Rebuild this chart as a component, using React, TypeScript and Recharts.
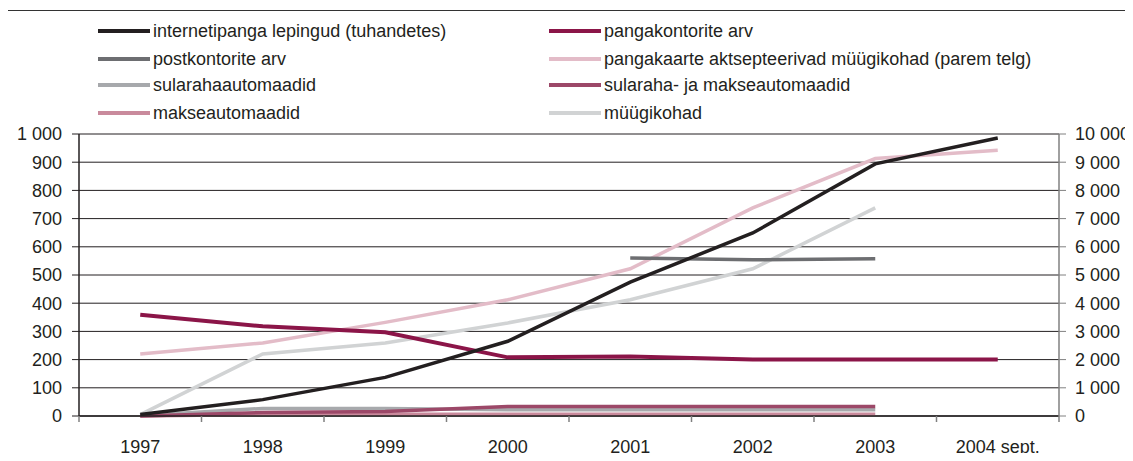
import React from "react";
import { LineChart, Line, XAxis, YAxis, CartesianGrid } from "recharts";

const years = ["1997", "1998", "1999", "2000", "2001", "2002", "2003", "2004 sept."];

// left axis
const internetContracts = [5, 58, 137, 265, 475, 649, 894, 986];
const bankOffices = [359, 318, 297, 208, 211, 200, 200, 200];
const postOffices = [null, null, null, null, 560, 554, 558, null];
const cashMachines = [2, 27, 27, 22, 22, 22, 22, null];
const cashAndPayMachines = [0, 12, 16, 34, 34, 34, 34, null];
const payMachines = [0, 6, 6, 6, 6, 6, 6, null];
// right axis
const cardOutlets = [2200, 2590, 3320, 4120, 5220, 7380, 9130, 9420];
const outlets = [50, 2200, 2590, 3300, 4120, 5220, 7380, null];

const leftTicks = [0, 100, 200, 300, 400, 500, 600, 700, 800, 900, 1000];
const rightTicks = [0, 1000, 2000, 3000, 4000, 5000, 6000, 7000, 8000, 9000, 10000];

const data = years.map((year, i) => ({
  year,
  internet: internetContracts[i],
  bank: bankOffices[i],
  post: postOffices[i],
  cash: cashMachines[i],
  cashPay: cashAndPayMachines[i],
  pay: payMachines[i],
  cards: cardOutlets[i],
  outlets: outlets[i],
}));

const legendItems = [
  { label: "internetipanga lepingud (tuhandetes)", color: "#231f20" },
  { label: "pangakontorite arv", color: "#8b1548" },
  { label: "postkontorite arv", color: "#6d6e71" },
  { label: "pangakaarte aktsepteerivad müügikohad (parem telg)", color: "#e3bcc8" },
  { label: "sularahaautomaadid", color: "#a7a9ac" },
  { label: "sularaha- ja makseautomaadid", color: "#9c4868" },
  { label: "makseautomaadid", color: "#c98a9c" },
  { label: "müügikohad", color: "#d1d3d4" },
];

const W = 1133;
const H = 461;
const LEFT_W = 79;
const RIGHT_W = 74;
const BAND = (W - LEFT_W - RIGHT_W) / years.length;
const FONT = '"Liberation Sans", Arial, sans-serif';
const TEXT = "#231f20";

const fmt = (v: number) => String(v).replace(/\B(?=(\d{3})+(?!\d))/g, " ");

const XTick = (props: any) => {
  const { x, y, payload, index } = props;
  const half = BAND / 2;
  return (
    <g>
      <line x1={x - half} x2={x - half} y1={y} y2={y + 6} stroke="#808080" strokeWidth={1.5} />
      {index === years.length - 1 && (
        <line x1={x + half} x2={x + half} y1={y} y2={y + 6} stroke="#808080" strokeWidth={1.5} />
      )}
      <text x={x} y={y + 31} dy="0.35em" textAnchor="middle" fill={TEXT} fontSize={18} fontFamily={FONT}>
        {payload.value}
      </text>
    </g>
  );
};

function Legend() {
  return (
    <div style={{ position: "absolute", left: 0, top: 0 }}>
      {legendItems.map((item, i) => {
        const col = i % 2;
        const row = Math.floor(i / 2);
        const left = col === 0 ? 98 : 549;
        const top = [31, 59, 85, 113][row];
        return (
          <div key={item.label} style={{ position: "absolute", left, top: top - 11, height: 22, display: "flex", alignItems: "center", whiteSpace: "nowrap" }}>
            <div style={{ width: 52, height: 4, background: item.color }} />
            <span style={{ marginLeft: 3, fontSize: 18, color: TEXT, lineHeight: "22px" }}>{item.label}</span>
          </div>
        );
      })}
    </div>
  );
}

export default function App() {
  return (
    <div style={{ position: "relative", width: W, height: H, margin: -8, overflow: "hidden", background: "#fff", fontFamily: FONT }}>
      <div style={{ position: "absolute", left: 6, top: 10, width: W, height: H, borderLeft: "1.5px solid #333", borderTop: "1.5px solid #333" }} />
      <Legend />
      <div style={{ position: "absolute", left: 0, top: 0 }}>
        <LineChart width={W} height={H} data={data} margin={{ top: 134, right: 0, bottom: 0, left: 0 }}>
          <CartesianGrid vertical={false} yAxisId="left" stroke={TEXT} strokeWidth={1} />
          <XAxis
            dataKey="year"
            interval={0}
            height={45}
            padding={{ left: BAND / 2, right: BAND / 2 }}
            tickSize={0}
            tickMargin={0}
            tick={<XTick />}
            axisLine={{ stroke: TEXT, strokeWidth: 1.5 }}
          />
          <YAxis
            yAxisId="left"
            width={LEFT_W}
            domain={[0, 1000]}
            ticks={leftTicks}
            interval={0}
            tickFormatter={fmt}
            tickSize={7}
            tickMargin={10}
            axisLine={{ stroke: TEXT, strokeWidth: 1.5 }}
            tickLine={{ stroke: TEXT }}
            tick={{ fill: TEXT, fontSize: 18, fontFamily: FONT }}
          />
          <YAxis
            yAxisId="right"
            orientation="right"
            width={RIGHT_W}
            domain={[0, 10000]}
            ticks={rightTicks}
            interval={0}
            tickFormatter={fmt}
            tickSize={7}
            tickMargin={9}
            axisLine={{ stroke: "#808080", strokeWidth: 1.5 }}
            tickLine={{ stroke: "#808080" }}
            tick={{ fill: TEXT, fontSize: 18, fontFamily: FONT, textAnchor: "start" }}
          />
          <Line yAxisId="right" dataKey="outlets" stroke="#d1d3d4" strokeWidth={3.5} dot={false} isAnimationActive={false} type="linear" />
          <Line yAxisId="right" dataKey="cards" stroke="#e3bcc8" strokeWidth={3.5} dot={false} isAnimationActive={false} type="linear" />
          <Line yAxisId="left" dataKey="pay" stroke="#c98a9c" strokeWidth={3.5} dot={false} isAnimationActive={false} type="linear" />
          <Line yAxisId="left" dataKey="cash" stroke="#a7a9ac" strokeWidth={3.5} dot={false} isAnimationActive={false} type="linear" />
          <Line yAxisId="left" dataKey="cashPay" stroke="#9c4868" strokeWidth={3.5} dot={false} isAnimationActive={false} type="linear" />
          <Line yAxisId="left" dataKey="post" stroke="#6d6e71" strokeWidth={3.5} dot={false} isAnimationActive={false} type="linear" />
          <Line yAxisId="left" dataKey="bank" stroke="#8b1548" strokeWidth={4} dot={false} isAnimationActive={false} type="linear" />
          <Line yAxisId="left" dataKey="internet" stroke="#231f20" strokeWidth={3.5} dot={false} isAnimationActive={false} type="linear" />
        </LineChart>
      </div>
    </div>
  );
}
